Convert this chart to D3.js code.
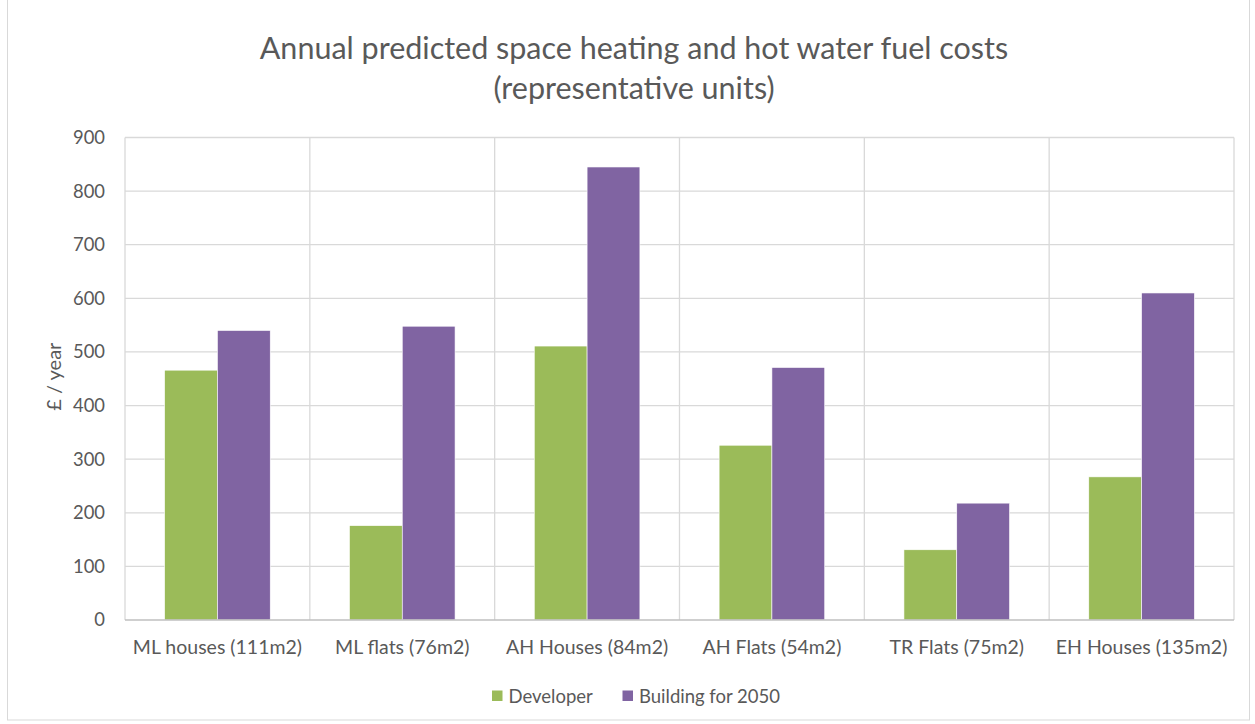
<!DOCTYPE html>
<html>
<head>
<meta charset="utf-8">
<script src="https://cdn.jsdelivr.net/npm/d3@7"></script>
<style>
  body { margin: 0; background: #fff; }
  text { font-family: Lato, "Open Sans", sans-serif; fill: #595959; }
</style>
</head>
<body>
<div id="chart"></div>
<script>
const categories = ['ML houses (111m2)', 'ML flats (76m2)', 'AH Houses (84m2)', 'AH Flats (54m2)', 'TR Flats (75m2)', 'EH Houses (135m2)'];
const seriesNames = ['Developer', 'Building for 2050'];
const developer = [466, 176, 511, 326, 131, 267];
const building2050 = [540, 548, 845, 471, 218, 610];
const yTicks = [0, 100, 200, 300, 400, 500, 600, 700, 800, 900];
const colors = ['#9bbb59', '#8064a2'];

const W = 1255, H = 724;
const margin = { top: 137.5, right: 21, bottom: 104, left: 125 };
const width = W - margin.left - margin.right,
    height = H - margin.top - margin.bottom;

const svg = d3.select('#chart')
    .append('svg')
    .attr('width', W)
    .attr('height', H);

// outer chart border
svg.append('rect')
    .attr('x', 7.5).attr('y', -1)
    .attr('width', 1242).attr('height', 721)
    .attr('fill', 'none')
    .attr('stroke', '#d9d9d9');

svg.append('text')
    .attr('x', 634).attr('y', 59)
    .attr('text-anchor', 'middle')
    .style('font-size', '30.5px')
    .text('Annual predicted space heating and hot water fuel costs');
svg.append('text')
    .attr('x', 634).attr('y', 99)
    .attr('text-anchor', 'middle')
    .style('font-size', '30.5px')
    .text('(representative units)');

const x0 = d3.scaleBand().domain(categories).range([0, width]);
const x1 = d3.scaleBand().domain(seriesNames)
    .range([0, x0.bandwidth()])
    .paddingOuter(0.75)
    .paddingInner(0);
const y = d3.scaleLinear().domain([0, 900]).range([height, 0]);

const g = svg.append('g')
    .attr('transform', `translate(${margin.left},${margin.top})`);

// horizontal gridlines
g.append('g')
    .selectAll('line')
    .data(yTicks.filter(d => d > 0))
    .enter().append('line')
    .attr('x1', 0).attr('x2', width)
    .attr('y1', d => y(d)).attr('y2', d => y(d))
    .attr('stroke', '#d9d9d9')
    .attr('stroke-width', 1.3);

// vertical gridlines at category edges
g.append('g')
    .selectAll('line')
    .data(d3.range(categories.length + 1))
    .enter().append('line')
    .attr('x1', i => i * x0.step()).attr('x2', i => i * x0.step())
    .attr('y1', 0).attr('y2', height)
    .attr('stroke', '#d9d9d9')
    .attr('stroke-width', 1.3);

const rows = categories.map((c, i) => ({ cat: c, vals: [developer[i], building2050[i]] }));

g.append('g')
    .selectAll('g')
    .data(rows)
    .enter().append('g')
    .attr('transform', d => `translate(${x0(d.cat)},0)`)
    .selectAll('rect')
    .data(d => d.vals.map((v, j) => ({ key: seriesNames[j], v: v, j: j })))
    .enter().append('rect')
    .attr('x', d => x1(d.key))
    .attr('width', x1.bandwidth())
    .attr('y', d => y(d.v))
    .attr('height', d => height - y(d.v))
    .attr('fill', d => colors[d.j])
    .attr('stroke', '#fff')
    .attr('stroke-width', 0.6);

// x axis line
g.append('line')
    .attr('x1', 0).attr('x2', width)
    .attr('y1', height).attr('y2', height)
    .attr('stroke', '#bfbfbf')
    .attr('stroke-width', 1.5);

const yAxis = d3.axisLeft(y).tickValues(yTicks).tickSize(0).tickPadding(20);
g.append('g')
    .call(yAxis)
    .call(s => s.select('.domain').remove())
    .selectAll('text')
    .style('font-size', '18.4px')
    .style('fill', '#595959')
    .style('font-family', 'Lato, sans-serif');

const xAxis = d3.axisBottom(x0).tickSize(0).tickPadding(20);
g.append('g')
    .attr('transform', `translate(0,${height})`)
    .call(xAxis)
    .call(s => s.select('.domain').remove())
    .selectAll('text')
    .style('font-size', '19.5px')
    .style('fill', '#595959')
    .style('font-family', 'Lato, sans-serif');

svg.append('text')
    .attr('transform', `translate(61,${margin.top + height / 2 - 2}) rotate(-90)`)
    .attr('text-anchor', 'middle')
    .style('font-size', '20px')
    .text('£ / year');

// legend
const legend = svg.append('g').attr('transform', 'translate(492,696)');
const legendX = [0, 130.5];
seriesNames.forEach((name, i) => {
    const lg = legend.append('g').attr('transform', `translate(${legendX[i]},0)`);
    lg.append('rect')
        .attr('x', 0).attr('y', -5.5)
        .attr('width', 10.5).attr('height', 10.5)
        .attr('fill', colors[i]);
    lg.append('text')
        .attr('x', 16.5).attr('y', 6.5)
        .style('font-size', '18.5px')
        .text(name);
});
</script>
</body>
</html>
